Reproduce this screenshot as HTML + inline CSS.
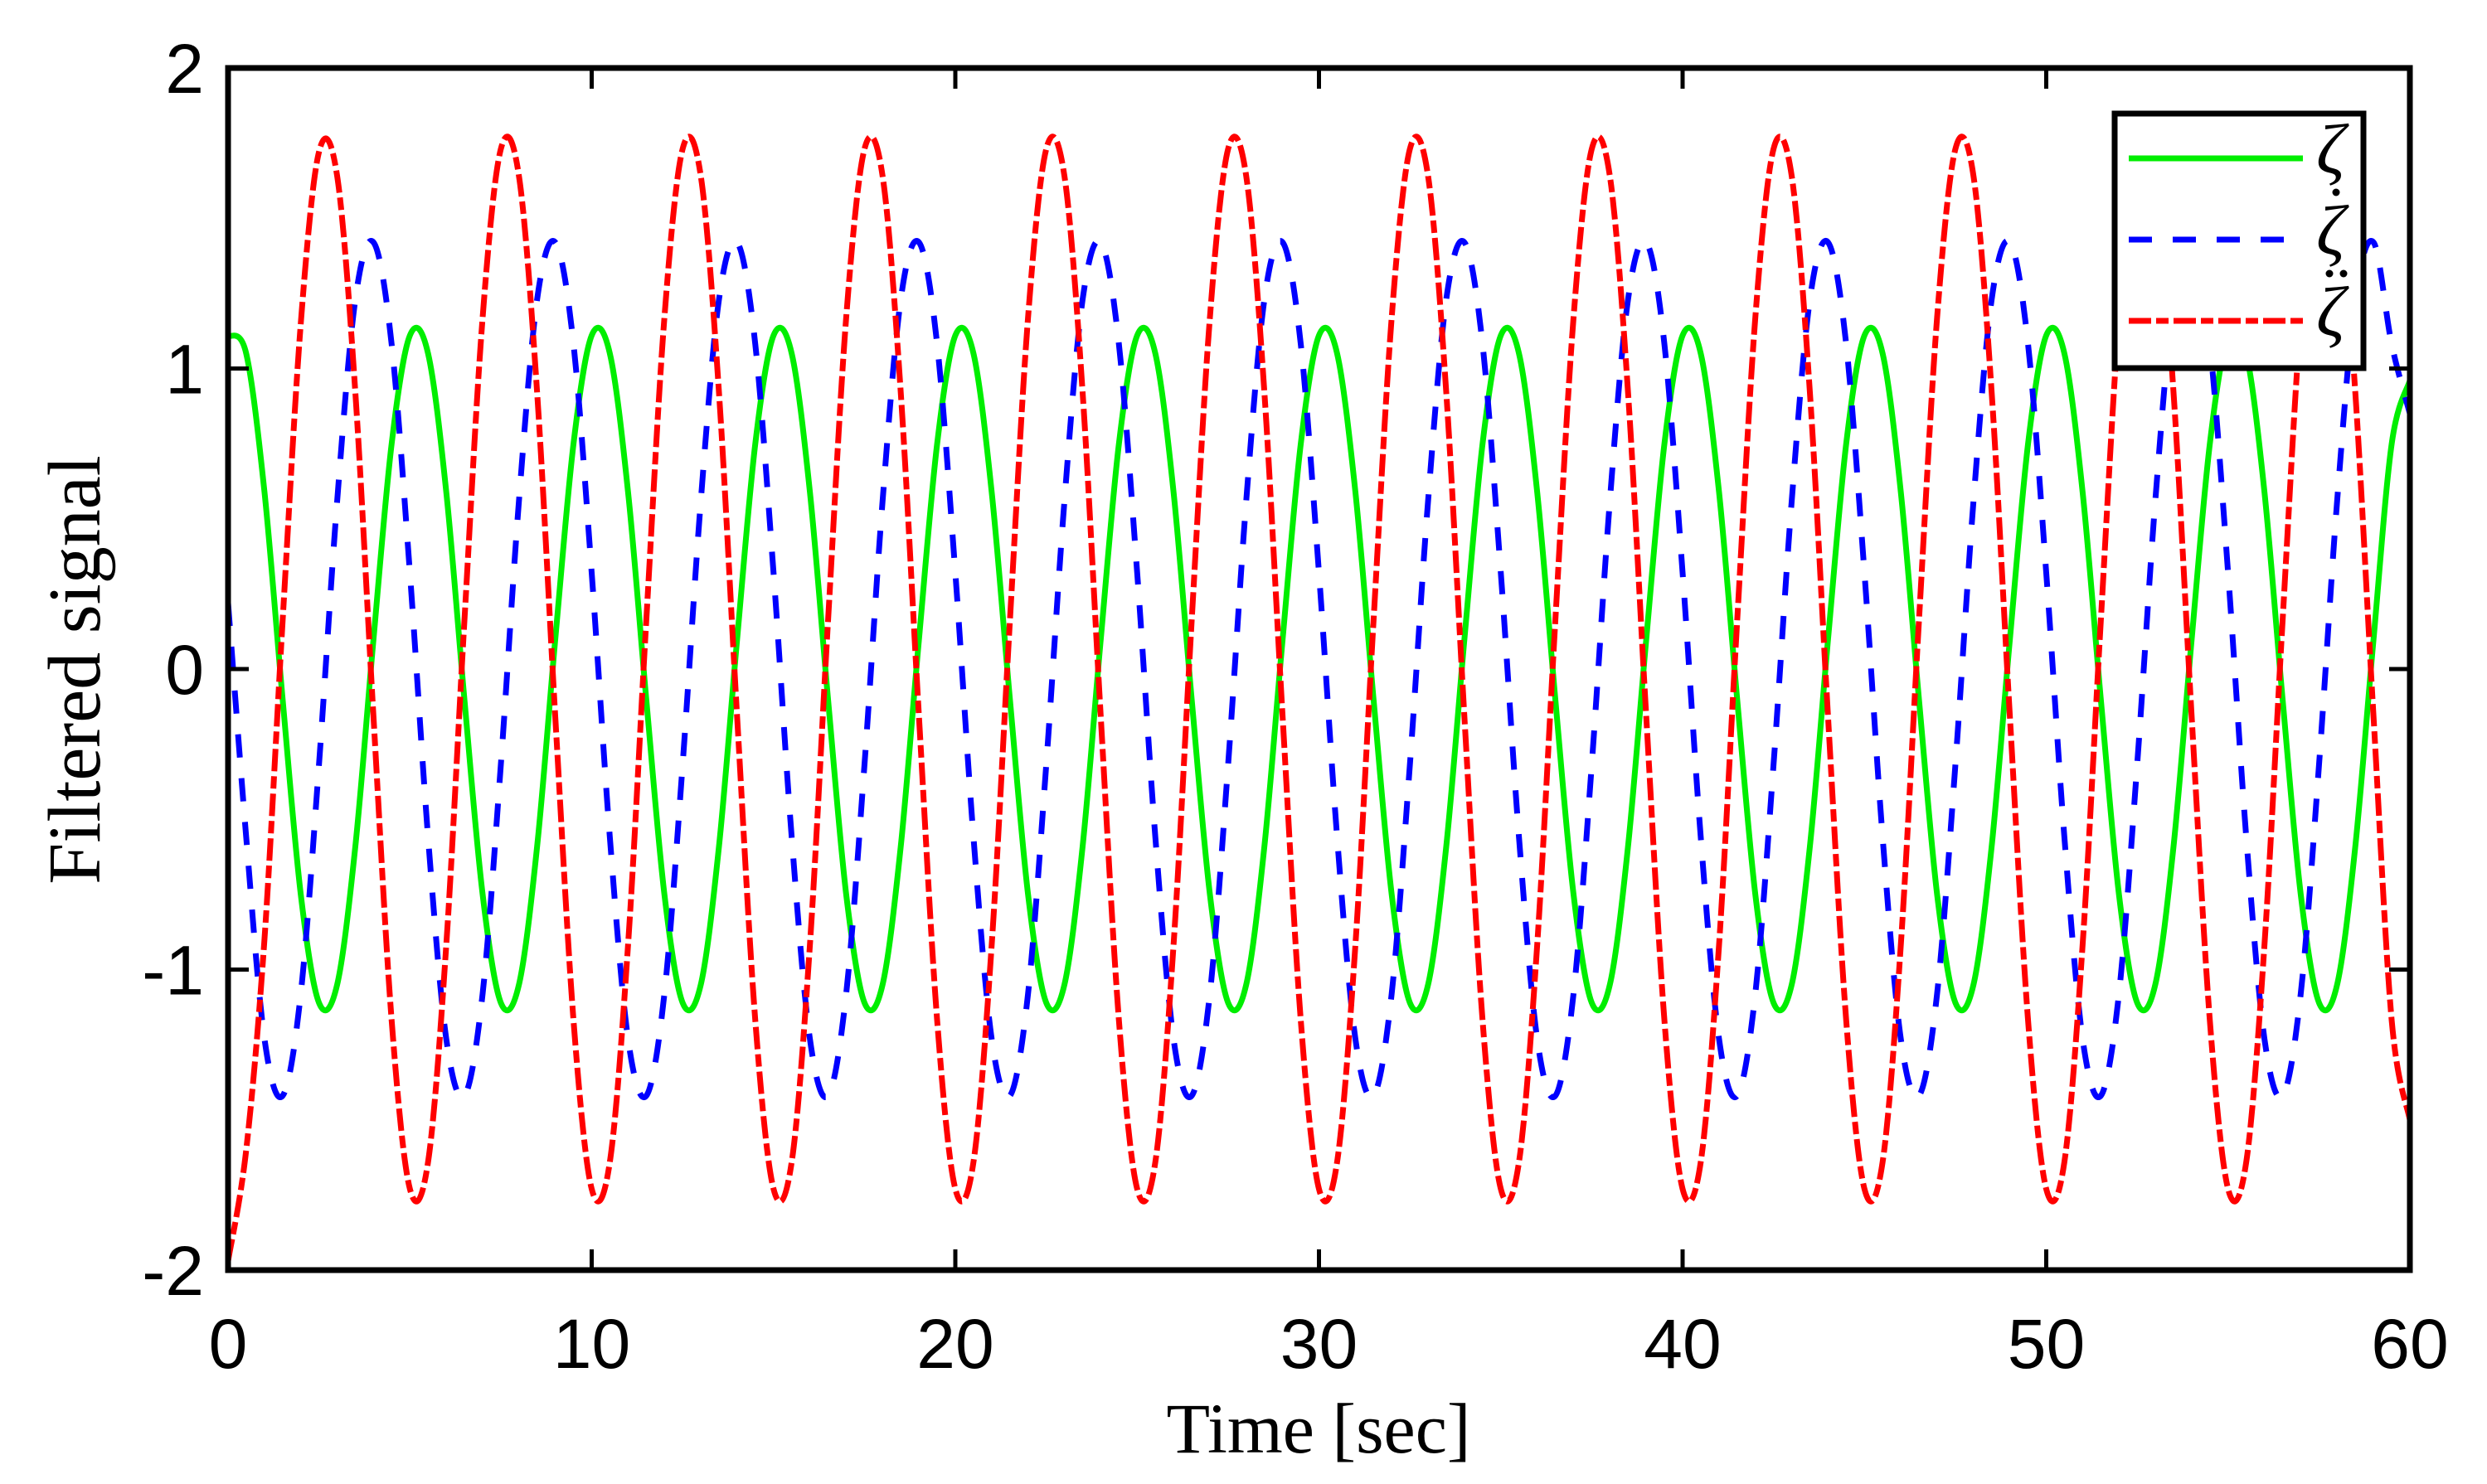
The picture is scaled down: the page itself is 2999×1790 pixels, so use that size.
<!DOCTYPE html>
<html><head><meta charset="utf-8"><style>
html,body{margin:0;padding:0;background:#fff;}
svg{display:block;}
text{font-family:"Liberation Sans",sans-serif;}
</style></head><body>
<svg id="chart" width="2999" height="1790" viewBox="0 0 2999 1790" xmlns="http://www.w3.org/2000/svg">
<rect width="2999" height="1790" fill="#fff"/>
<g id="series"></g>
<g id="axes"></g>
<g id="legend"></g>
</svg>
<script>
const xTicks=[0,10,20,30,40,50,60];
const yTicks=[-2,-1,0,1,2];
const xTickLabels=["0","10","20","30","40","50","60"];
const yTickLabels=["-2","-1","0","1","2"];
const timeStep=0.5;
const zeta=[1.11,1.05,0.59,-0.10,-0.75,-1.11,-1.05,-0.59,0.10,0.75,
1.11,1.05,0.59,-0.10,-0.75,-1.11,-1.05,-0.59,0.10,0.75,
1.11,1.05,0.59,-0.10,-0.75,-1.11,-1.05,-0.59,0.10,0.75,
1.11,1.05,0.59,-0.10,-0.75,-1.11,-1.05,-0.59,0.10,0.75,
1.11,1.05,0.59,-0.10,-0.75,-1.11,-1.05,-0.59,0.10,0.75,
1.11,1.05,0.59,-0.10,-0.75,-1.11,-1.05,-0.59,0.10,0.75,
1.11,1.05,0.59,-0.10,-0.75,-1.11,-1.05,-0.59,0.10,0.75,
1.11,1.05,0.59,-0.10,-0.75,-1.11,-1.05,-0.59,0.10,0.75,
1.11,1.05,0.59,-0.10,-0.75,-1.11,-1.05,-0.59,0.10,0.75,
1.11,1.05,0.59,-0.10,-0.75,-1.11,-1.05,-0.59,0.10,0.75,
1.11,1.05,0.59,-0.10,-0.75,-1.11,-1.05,-0.59,0.10,0.75,
1.11,1.05,0.59,-0.10,-0.75,-1.11,-1.05,-0.59,0.10,0.75,
0.96];
const zetaDot=[0.22,-0.56,-1.23,-1.42,-1.08,-0.32,0.56,1.23,1.42,1.08,
0.32,-0.56,-1.23,-1.42,-1.08,-0.32,0.56,1.23,1.42,1.08,
0.32,-0.56,-1.23,-1.42,-1.08,-0.32,0.56,1.23,1.42,1.08,
0.32,-0.56,-1.23,-1.42,-1.08,-0.32,0.56,1.23,1.42,1.08,
0.32,-0.56,-1.23,-1.42,-1.08,-0.32,0.56,1.23,1.42,1.08,
0.32,-0.56,-1.23,-1.42,-1.08,-0.32,0.56,1.23,1.42,1.08,
0.32,-0.56,-1.23,-1.42,-1.08,-0.32,0.56,1.23,1.42,1.08,
0.32,-0.56,-1.23,-1.42,-1.08,-0.32,0.56,1.23,1.42,1.08,
0.32,-0.56,-1.23,-1.42,-1.08,-0.32,0.56,1.23,1.42,1.08,
0.32,-0.56,-1.23,-1.42,-1.08,-0.32,0.56,1.23,1.42,1.08,
0.32,-0.56,-1.23,-1.42,-1.08,-0.32,0.56,1.23,1.42,1.08,
0.32,-0.56,-1.23,-1.42,-1.08,-0.32,0.56,1.23,1.42,1.08,
0.85];
const zetaDDot=[-1.97,-1.60,-0.90,0.16,1.15,1.72,1.64,0.92,-0.16,-1.17,
-1.73,-1.64,-0.92,0.16,1.17,1.73,1.64,0.92,-0.16,-1.17,
-1.73,-1.64,-0.92,0.16,1.17,1.73,1.64,0.92,-0.16,-1.17,
-1.73,-1.64,-0.92,0.16,1.17,1.73,1.64,0.92,-0.16,-1.17,
-1.73,-1.64,-0.92,0.16,1.17,1.73,1.64,0.92,-0.16,-1.17,
-1.73,-1.64,-0.92,0.16,1.17,1.73,1.64,0.92,-0.16,-1.17,
-1.73,-1.64,-0.92,0.16,1.17,1.73,1.64,0.92,-0.16,-1.17,
-1.73,-1.64,-0.92,0.16,1.17,1.73,1.64,0.92,-0.16,-1.17,
-1.73,-1.64,-0.92,0.16,1.17,1.73,1.64,0.92,-0.16,-1.17,
-1.73,-1.64,-0.92,0.16,1.17,1.73,1.64,0.92,-0.16,-1.17,
-1.73,-1.64,-0.92,0.16,1.17,1.73,1.64,0.92,-0.16,-1.17,
-1.73,-1.64,-0.92,0.16,1.17,1.73,1.64,0.92,-0.16,-1.17,
-1.50];

const NS="http://www.w3.org/2000/svg";
const L=275,R=2906,T=82,B=1532;
const xMin=0,xMax=60,yMin=-2,yMax=2;
function xScale(v){return L+(v-xMin)/(xMax-xMin)*(R-L);}
function yScale(v){return B-(v-yMin)/(yMax-yMin)*(B-T);}
function mk(tag,attrs,parent){const e=document.createElementNS(NS,tag);for(const k in attrs)e.setAttribute(k,attrs[k]);parent.appendChild(e);return e;}

function pathFor(vals){
  const pts=vals.map((v,i)=>[xScale(i*timeStep),yScale(v)]);
  let d="M"+pts[0][0].toFixed(1)+","+pts[0][1].toFixed(1);
  for(let i=0;i<pts.length-1;i++){
    const p0=pts[Math.max(0,i-1)],p1=pts[i],p2=pts[i+1],p3=pts[Math.min(pts.length-1,i+2)];
    const c1x=p1[0]+(p2[0]-p0[0])/6,c1y=p1[1]+(p2[1]-p0[1])/6;
    const c2x=p2[0]-(p3[0]-p1[0])/6,c2y=p2[1]-(p3[1]-p1[1])/6;
    d+="C"+c1x.toFixed(1)+","+c1y.toFixed(1)+" "+c2x.toFixed(1)+","+c2y.toFixed(1)+" "+p2[0].toFixed(1)+","+p2[1].toFixed(1);
  }
  return d;
}
const sg=document.getElementById('series');
const cp=mk('clipPath',{id:'clip'},sg);
mk('rect',{x:L,y:T,width:R-L,height:B-T},cp);
const g1=mk('path',{d:pathFor(zeta),fill:'none',stroke:'#00ee00','stroke-width':7,'clip-path':'url(#clip)'},sg);


const g2=mk('path',{d:pathFor(zetaDot),fill:'none',stroke:'#0000ff','stroke-width':7,'stroke-dasharray':'28 25','clip-path':'url(#clip)'},sg);


const g3=mk('path',{d:pathFor(zetaDDot),fill:'none',stroke:'#ff0000','stroke-width':7,'stroke-dasharray':'27 6 15 6','clip-path':'url(#clip)'},sg);



const ax=document.getElementById('axes');
const frame=mk('rect',{x:L,y:T,width:R-L,height:B-T,fill:'none',stroke:'#000','stroke-width':7},ax);


xTicks.forEach((v,i)=>{
  const x=xScale(v);
  mk('line',{x1:x,y1:B,x2:x,y2:B-25,stroke:'#000','stroke-width':5},ax);
  mk('line',{x1:x,y1:T,x2:x,y2:T+25,stroke:'#000','stroke-width':5},ax);
  const t=mk('text',{x:x,y:1650,'font-size':84,'text-anchor':'middle',fill:'#000'},ax);
  t.textContent=xTickLabels[i];
  
  
});
yTicks.forEach((v,i)=>{
  const y=yScale(v);
  mk('line',{x1:L,y1:y,x2:L+25,y2:y,stroke:'#000','stroke-width':5},ax);
  mk('line',{x1:R,y1:y,x2:R-25,y2:y,stroke:'#000','stroke-width':5},ax);
  const t=mk('text',{x:246,y:y+30,'font-size':84,'text-anchor':'end',fill:'#000'},ax);
  t.textContent=yTickLabels[i];
  
  
});
const xt=mk('text',{x:1590,y:1752,'font-size':86,'text-anchor':'middle',fill:'#000',style:'font-family:"Liberation Serif",serif'},ax);
xt.textContent='Time [sec]';


const yt=mk('text',{x:0,y:0,'font-size':90,'text-anchor':'middle',fill:'#000',transform:'translate(120,808) rotate(-90)',style:'font-family:"Liberation Serif",serif'},ax);
yt.textContent='Filtered signal';



const lg=document.getElementById('legend');
const box=mk('rect',{x:2550,y:137,width:300,height:307,fill:'#fff',stroke:'#000','stroke-width':7},lg);


const entries=[['#00ee00','none',0,'legend-entry-zeta'],['#0000ff','28 25',1,'legend-entry-zeta-dot'],['#ff0000','27 6 15 6',2,'legend-entry-zeta-ddot']];
entries.forEach((e,i)=>{
  const y=191+i*98;
  const ln=mk('line',{x1:2567,y1:y,x2:2777,y2:y,stroke:e[0],'stroke-width':7},lg);
  if(e[1]!=='none')ln.setAttribute('stroke-dasharray',e[1]);
  
  
  const t=mk('text',{x:2793,y:y+18,'font-size':86,'font-style':'italic',fill:'#000',style:'font-family:"Liberation Serif","DejaVu Serif",serif'},lg);
  t.textContent='ζ';
  
  
  if(e[2]===1){mk('circle',{cx:2817,cy:y-57,r:4.5,fill:'#000'},lg);}
  if(e[2]===2){mk('circle',{cx:2809,cy:y-57,r:4.5,fill:'#000'},lg);mk('circle',{cx:2826,cy:y-57,r:4.5,fill:'#000'},lg);}
});
</script>
</body></html>
